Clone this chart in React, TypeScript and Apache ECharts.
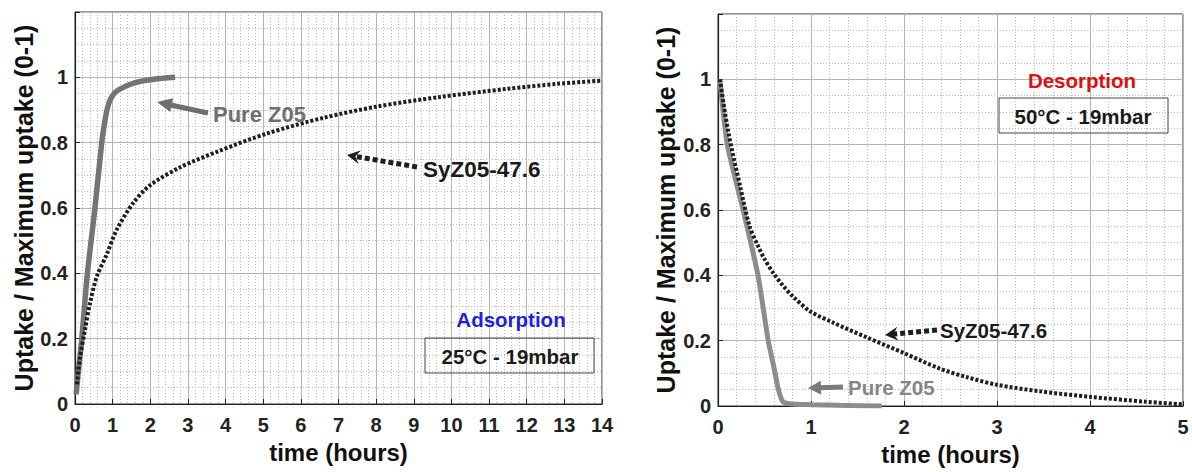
import React, { useEffect, useRef } from "react";
import * as echarts from "echarts";

// ---------- Data ----------
// Adsorption (left panel)
const adsPureT = [0.03, 0.1, 0.18, 0.33, 0.53, 0.71, 0.8, 0.86, 0.95, 1.08, 1.3, 1.6, 2.1, 2.66];
const adsPureY = [0.03, 0.11, 0.2, 0.4, 0.6, 0.8, 0.87, 0.905, 0.935, 0.955, 0.97, 0.984, 0.994, 1.0];
const adsSyT = [0.05, 0.13, 0.27, 0.4, 0.58, 0.85, 1.11, 1.55, 2.0, 2.8, 3.77, 5.1, 6.6, 8.0, 9.7, 11.5, 12.8, 14.0];
const adsSyY = [0.06, 0.14, 0.23, 0.31, 0.39, 0.46, 0.534, 0.616, 0.67, 0.725, 0.772, 0.828, 0.876, 0.91, 0.94, 0.965, 0.98, 0.99];

// Desorption (right panel)
const desPureT = [0.02, 0.1, 0.27, 0.43, 0.54, 0.6, 0.65, 0.7, 0.8, 1.0, 1.3, 1.76];
const desPureY = [1.0, 0.8, 0.6, 0.4, 0.2, 0.12, 0.05, 0.012, 0.006, 0.004, 0.002, 0.0];
const desSyT = [0.02, 0.11, 0.24, 0.34, 0.43, 0.5, 0.6, 0.7, 0.81, 0.99, 1.24, 1.6, 2.0, 2.38, 2.68, 3.0, 3.46, 4.0, 4.6, 5.0];
const desSyY = [1.0, 0.84, 0.67, 0.55, 0.49, 0.45, 0.405, 0.368, 0.334, 0.29, 0.255, 0.21, 0.162, 0.115, 0.088, 0.065, 0.045, 0.028, 0.013, 0.005];

// Tick labels
const yTickLabels = ["0", "0.2", "0.4", "0.6", "0.8", "1"];
const adsXMax = 14;
const desXMax = 5;

const FONT = "'Liberation Sans', Arial, Helvetica, sans-serif";

function zip(t: number[], y: number[]) {
  return t.map((v, i) => [v, y[i]]);
}

function arrowEls(
  x1: number, y1: number, x2: number, y2: number,
  color: string, width: number, dash: number[] | null,
  headLen: number, headW: number, notch: boolean
) {
  const dx = x2 - x1, dy = y2 - y1;
  const L = Math.hypot(dx, dy);
  const ux = dx / L, uy = dy / L;
  const nx = -uy, ny = ux;
  const bx = x2 - ux * headLen, by = y2 - uy * headLen;
  const nb = notch ? headLen * 0.35 : 0;
  return [
    {
      type: "line",
      z: 50,
      shape: { x1, y1, x2: bx + ux * (nb + 1), y2: by + uy * (nb + 1) },
      style: { stroke: color, lineWidth: width, lineDash: dash || undefined },
    },
    {
      type: "polygon",
      z: 50,
      shape: {
        points: [
          [x2, y2],
          [bx + nx * headW, by + ny * headW],
          [bx + ux * nb, by + uy * nb],
          [bx - nx * headW, by - ny * headW],
        ],
      },
      style: { fill: color },
    },
  ];
}

function textEl(x: number, y: number, text: string, size: number, fill: string, align = "left", weight = "bold") {
  return {
    type: "text",
    z: 50,
    x,
    y,
    style: {
      text,
      font: `${weight} ${size}px ${FONT}`,
      fill,
      textAlign: align,
      textVerticalAlign: "middle",
    },
  };
}

function xAxisCfg(gridIndex: number, max: number) {
  return {
    gridIndex,
    type: "value",
    min: 0,
    max,
    interval: 1,
    name: "time (hours)",
    nameLocation: "middle",
    nameGap: 36,
    nameTextStyle: { fontSize: 24, fontWeight: "bold", color: "#111", fontFamily: FONT },
    axisLine: { show: true, onZero: false, lineStyle: { color: "#222", width: 1.2 } },
    axisTick: { show: true, inside: true, length: 5, lineStyle: { color: "#222" } },
    axisLabel: { margin: 11, fontSize: 20, fontWeight: "bold", color: "#222", fontFamily: FONT },
    splitLine: { show: true, lineStyle: { color: "#b4b4b4", width: 1 } },
    minorTick: { show: false, splitNumber: 5 },
    minorSplitLine: { show: true, lineStyle: { color: "#bcbcbc", width: 1, type: [1, 2] } },
  };
}

function yAxisCfg(gridIndex: number, nameGap: number) {
  return {
    gridIndex,
    type: "value",
    min: 0,
    max: 1.2,
    interval: 0.2,
    name: "Uptake / Maximum uptake (0-1)",
    nameLocation: "middle",
    nameGap,
    nameTextStyle: { fontSize: 25, fontWeight: "bold", color: "#111", fontFamily: FONT },
    axisLine: { show: true, onZero: false, lineStyle: { color: "#222", width: 1.2 } },
    axisTick: { show: true, inside: true, length: 5, lineStyle: { color: "#222" } },
    axisLabel: {
      margin: 7,
      fontSize: 20,
      fontWeight: "bold",
      color: "#222",
      fontFamily: FONT,
      formatter: (v: number) => {
        const i = Math.round(v / 0.2);
        return i < yTickLabels.length ? yTickLabels[i] : "";
      },
    },
    splitLine: { show: true, lineStyle: { color: "#b4b4b4", width: 1 } },
    minorTick: { show: false, splitNumber: 4 },
    minorSplitLine: { show: true, lineStyle: { color: "#bcbcbc", width: 1, type: [1, 2] } },
  };
}

export default function App() {
  const ref = useRef<HTMLDivElement>(null);

  useEffect(() => {
    if (!ref.current) return;
    const chart = echarts.init(ref.current, undefined, { renderer: "svg" });

    const graphics: any[] = [
      // Left panel annotations
      ...arrowEls(208, 113, 157, 102, "#6e6e6e", 5, null, 15, 7, false),
      textEl(213, 114, "Pure Z05", 22, "#6e6e6e"),
      ...arrowEls(417, 167, 347, 155, "#1e1e1e", 5, [5, 3], 13, 7, true),
      textEl(423, 169, "SyZ05-47.6", 22.5, "#1a1a1a"),
      textEl(511, 319, "Adsorption", 20.5, "#1f1fdf", "center"),
      {
        type: "rect",
        z: 40,
        shape: { x: 425, y: 338, width: 169, height: 35 },
        style: { fill: "none", stroke: "#444", lineWidth: 1 },
      },
      textEl(510, 356, "25°C - 19mbar", 20.5, "#1a1a1a", "center"),
      // Right panel annotations
      textEl(1082, 80, "Desorption", 20.5, "#e01010", "center"),
      {
        type: "rect",
        z: 40,
        shape: { x: 999, y: 98, width: 169, height: 35 },
        style: { fill: "none", stroke: "#444", lineWidth: 1 },
      },
      textEl(1083, 116, "50°C - 19mbar", 20.5, "#1a1a1a", "center"),
      ...arrowEls(937, 330, 885, 335, "#1e1e1e", 5, [5, 3], 13, 7, true),
      textEl(940, 330, "SyZ05-47.6", 20.5, "#1a1a1a"),
      ...arrowEls(843, 387, 808, 388, "#7a7a7a", 5, null, 13, 7, false),
      textEl(848, 387, "Pure Z05", 20.5, "#858585"),
    ];

    chart.setOption({
      animation: false,
      backgroundColor: "#ffffff",
      grid: [
        { left: 75, top: 12, width: 527, height: 392, show: true, borderColor: "#333", borderWidth: 1 },
        { left: 718, top: 14, width: 465, height: 392, show: true, borderColor: "#333", borderWidth: 1 },
      ],
      xAxis: [xAxisCfg(0, adsXMax), xAxisCfg(1, desXMax)],
      yAxis: [yAxisCfg(0, 37), yAxisCfg(1, 40)],
      series: [
        {
          name: "Pure Z05 (adsorption)",
          type: "line",
          xAxisIndex: 0,
          yAxisIndex: 0,
          data: zip(adsPureT, adsPureY),
          showSymbol: false,
          smooth: 0.25,
          lineStyle: { color: "#747474", width: 5.5 },
          z: 3,
        },
        {
          name: "SyZ05-47.6 (adsorption)",
          type: "line",
          xAxisIndex: 0,
          yAxisIndex: 0,
          data: zip(adsSyT, adsSyY),
          showSymbol: false,
          smooth: 0.3,
          lineStyle: { color: "#1e1e1e", width: 4, type: [3, 2] },
          z: 4,
        },
        {
          name: "Pure Z05 (desorption)",
          type: "line",
          xAxisIndex: 1,
          yAxisIndex: 1,
          data: zip(desPureT, desPureY),
          showSymbol: false,
          smooth: 0.2,
          lineStyle: { color: "#8c8c8c", width: 5 },
          z: 3,
        },
        {
          name: "SyZ05-47.6 (desorption)",
          type: "line",
          xAxisIndex: 1,
          yAxisIndex: 1,
          data: zip(desSyT, desSyY),
          showSymbol: false,
          smooth: 0.3,
          lineStyle: { color: "#1e1e1e", width: 4, type: [3, 2] },
          z: 4,
        },
      ],
      graphic: { elements: graphics },
    });

    return () => chart.dispose();
  }, []);

  return (
    <div
      ref={ref}
      style={{ position: "absolute", left: 0, top: 0, width: 1192, height: 472, background: "#fff" }}
    />
  );
}
